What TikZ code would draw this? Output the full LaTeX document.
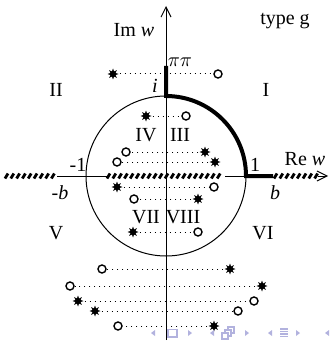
\documentclass[tikz,border=0pt]{standalone}
\usepackage{fontspec}
\setmainfont{Liberation Serif}
\usetikzlibrary{arrows.meta,shapes.geometric}
\definecolor{navBlue}{RGB}{178,178,222}
\tikzset{
  zero/.style={circle,draw,line width=0.7pt,inner sep=0pt,minimum size=4pt,fill=white},
  pole/.style={star,star points=8,star point ratio=2,fill,inner sep=0pt,minimum size=5.5pt},
  pairline/.style={dotted,line width=0.5pt},
  cutline/.style={line width=2pt},
  hatch/.style={line width=1.4pt},
  barb/.style={-{Straight Barb[length=5pt,width=5pt]}},
}

\begin{document}
\begin{tikzpicture}[x=0.5pt,y=-0.5pt]
    \useasboundingbox (0,0) rectangle (331,342);
    % unit circle and axes
    \coordinate (O) at (166,176);
    \node[circle,draw,line width=0.5pt,inner sep=0pt,minimum size=80pt] (unit) at (O) {};
    \coordinate (imbot) at (166,340);
    \coordinate (imtop) at (166,6);
    \coordinate (rel) at (5,176);
    \coordinate (rer) at (328,176);
    \draw[barb,line width=0.5pt] (imbot) -- (imtop);
    \draw[line width=0.5pt] (57,176) -- (107,176) (225,176) -- (247,176);
    \draw[barb,line width=0.5pt] (318,176) -- (rer);
    % cuts on the real axis
    \foreach \x in {5,10.8,...,53} {
       \draw[hatch] (\x,178.5) -- ++(3,-5);
     }
    \foreach \x in {107,112.8,...,221} {
       \draw[hatch] (\x,178.5) -- ++(3,-5);
     }
    \foreach \x in {274,279.8,...,316} {
       \draw[hatch] (\x,178.5) -- ++(3,-5);
     }
    % pi pi cut
    \coordinate (pp) at (166,66);
    \coordinate (ipt) at (166,96);
    \coordinate (bpt) at (273,176);
    \draw[cutline] (pp) -- (ipt) arc[start angle=90,end angle=0,radius=40pt] -- (bpt);
    % pole / zero pairs
    \foreach \n/\y/\xs/\xc in {1/74/113/218,2/116/146/186,3/152/205/126,4/162/215/117,
                               5/187/117/214,6/199/198/134,7/232/133/198,8/269/230/102,
                               9/286/262/70,10/301/78/254,11/311/95/238,12/326/214/118} {
       \node[zero] (c\n) at (\xc,\y) {};
       \node[pole] (s\n) at (\xs,\y) {};
       \draw[pairline] (s\n) -- (c\n);
     }
    % labels
    \node at (134,30) {Im \textit{w}};
    \node at (285,21) {type g};
    \node at (180,62) {$\pi\pi$};
    \node at (155,86) {\textit{i}};
    \node at (56,90) {II};
    \node at (266,90) {I};
    \node at (146,135) {IV};
    \node at (180,135) {III};
    \node at (78,165) {-1};
    \node at (255,165) {1};
    \node at (305,159) {Re \textit{w}};
    \node at (60,193) {-\textit{b}};
    \node at (275,193) {\textit{b}};
    \node at (146,217) {VII};
    \node at (183,217) {VIII};
    \node at (56,233) {V};
    \node at (263,233) {VI};
    % navigation symbols
    \foreach \x in {153,212,270,327} {
       \fill[navBlue] (\x-2,333) -- (\x+2,330) -- (\x+2,336) -- cycle;
     }
    \foreach \x in {190,247,298} {
       \fill[navBlue] (\x+2,333) -- (\x-2,330) -- (\x-2,336) -- cycle;
     }
    \draw[navBlue,line width=0.6pt] (168,329.5) rectangle (177,337);
    \draw[navBlue,line width=0.6pt,fill=white] (228,327) rectangle (234,333);
    \draw[navBlue,line width=0.6pt,fill=white] (225,330) rectangle (231,336);
    \draw[navBlue,line width=0.6pt,fill=white] (222,333) rectangle (228,339);
    \foreach \yy in {329,331.5,334,336.5} {
       \draw[navBlue,line width=0.6pt] (280,\yy) -- (288,\yy);
     }
\end{tikzpicture}
\end{document}
